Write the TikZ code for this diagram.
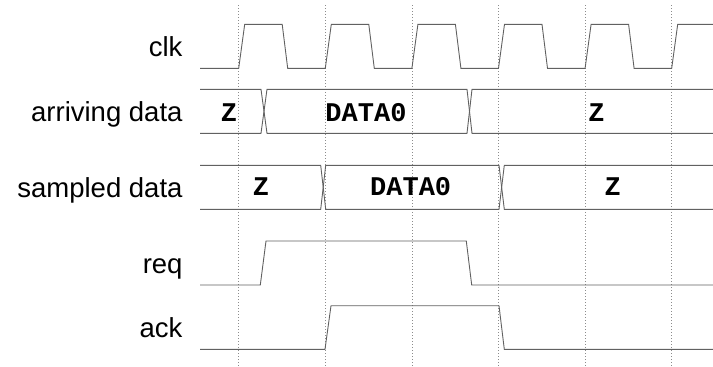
\documentclass[tikz,border=0pt]{standalone}
\usepackage{fontspec}
\setmainfont{Liberation Sans}
\newfontfamily\busfont{Liberation Mono}
\begin{document}
\begin{tikzpicture}[x=1pt,y=-1pt,
  wave/.style={draw=black!62, line width=0.9pt, line join=miter},
  tick/.style={draw=black!45, line width=0.8pt, dash pattern=on 0.8pt off 2.2pt},
  siglabel/.style={anchor=base east, inner sep=0pt, font=\fontsize{27.5}{30}\selectfont},
  busval/.style={inner sep=0pt, font=\busfont\bfseries\fontsize{27}{30}\selectfont}]
\useasboundingbox (0,0) rectangle (713,367);

% clock edge markers
\foreach \k in {0,...,5}
  \draw[tick] ({238.7+86.6*\k},5) -- ({238.7+86.6*\k},367);

% signal names
\node[siglabel] (lclk) at (182.7,56.7) {clk};
\node[siglabel] (larr) at (182.7,121.7) {arriving data};
\node[siglabel] (lsmp) at (182.7,197.7) {sampled data};
\node[siglabel] (lreq) at (182.7,273.4) {req};
\node[siglabel] (lack) at (182.7,337.9) {ack};

% clk
\draw[wave] (200,68.3)
  \foreach \k in {0,...,4} {
    -- ({238.7+86.6*\k},68.3) -- ({244.7+86.6*\k},24.3)
    -- ({282.2+86.6*\k},24.3) -- ({287.7+86.6*\k},68.3) }
  -- (671.7,68.3) -- (677.7,24.3) -- (713,24.3);

% arriving data bus
\draw[wave] (200,89.3) -- (261,89.3) -- (267,133.3) -- (467,133.3) -- (472,89.3) -- (713,89.3);
\draw[wave] (200,133.3) -- (261,133.3) -- (267,89.3) -- (467,89.3) -- (472,133.3) -- (713,133.3);
\node[busval] (az0) at (229,112.5) {Z};
\node[busval] (ad0) at (366,112.5) {DATA0};
\node[busval] (az1) at (596.5,112.5) {Z};

% sampled data bus
\draw[wave] (200,165.3) -- (320.7,165.3) -- (325.7,209.3) -- (499,209.3) -- (504.3,165.3) -- (713,165.3);
\draw[wave] (200,209.3) -- (320.7,209.3) -- (325.7,165.3) -- (499,165.3) -- (504.3,209.3) -- (713,209.3);
\node[busval] (sz0) at (261,187) {Z};
\node[busval] (sd0) at (410.7,187) {DATA0};
\node[busval] (sz1) at (612.7,187) {Z};

% req
\draw[wave] (200,285) -- (260.3,285) -- (266,241) -- (466.3,241) -- (471.7,285) -- (713,285);

% ack
\draw[wave] (200,349.3) -- (325,349.3) -- (331,305.7) -- (499,305.7) -- (504.3,349.3) -- (713,349.3);
\end{tikzpicture}
\end{document}
